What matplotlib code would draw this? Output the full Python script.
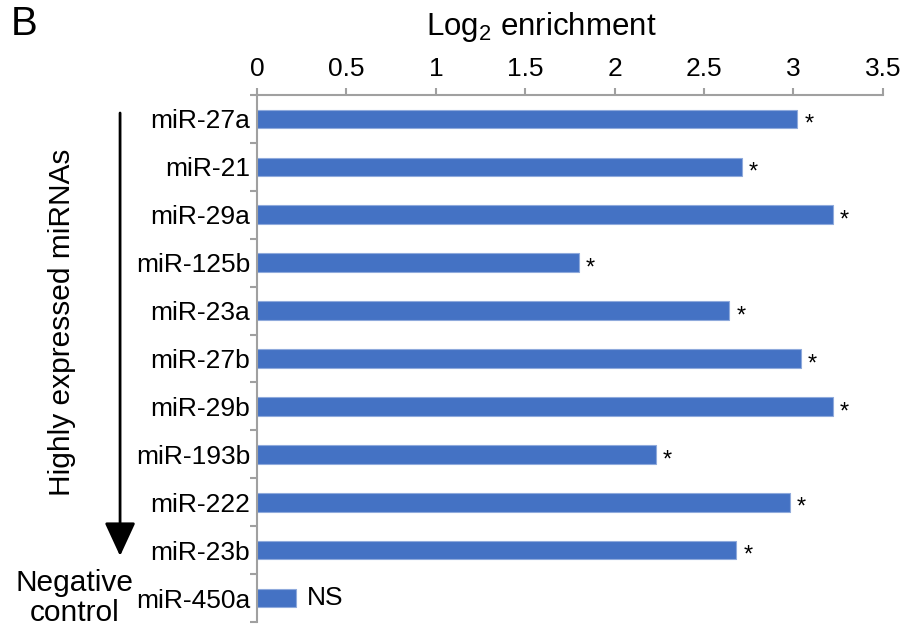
import matplotlib
matplotlib.use("Agg")
import matplotlib.pyplot as plt
import numpy as np

plt.rcParams['font.family'] = ['Liberation Sans', 'DejaVu Sans']
plt.rcParams['mathtext.default'] = 'regular'

mirnas = ["miR-27a", "miR-21", "miR-29a", "miR-125b", "miR-23a", "miR-27b",
          "miR-29b", "miR-193b", "miR-222", "miR-23b", "miR-450a"]
log2_enrichment = [3.02, 2.71, 3.22, 1.80, 2.64, 3.04, 3.22, 2.23, 2.98, 2.68, 0.22]
marks = ["*"] * 10 + ["NS"]
xticks = [0, 0.5, 1, 1.5, 2, 2.5, 3, 3.5]

fig = plt.figure(figsize=(9.13, 6.32), dpi=100)
ax = fig.add_axes([0.2815, 0.0158, 0.967 - 0.2815, 0.8497 - 0.0158])

y = np.arange(len(mirnas))
ax.barh(y, log2_enrichment, height=0.39, color="#4472C4",
        edgecolor="#8faadc", linewidth=0.8)
ax.set_ylim(len(mirnas) - 0.5, -0.5)
ax.set_xlim(0, 3.5)

# significance marks just past each bar
for yi, v, m in zip(y, log2_enrichment, marks):
    if m == "*":
        ax.text(v + 0.04, yi + 0.12, m, fontsize=17, ha="left", va="center")
    else:
        ax.text(v + 0.06, yi, m, fontsize=19, ha="left", va="center")

ax.xaxis.tick_top()
ax.set_xticks(xticks)
ax.set_xticklabels([f"{t:g}" for t in xticks], fontsize=19)
ax.tick_params(axis="x", direction="out", length=5, width=1.5,
               color="#a0a0a0", pad=5)

# category labels in the middle, ticks on the boundaries
ax.set_yticks(y)
ax.set_yticklabels(mirnas, fontsize=19)
ax.set_yticks(np.arange(-0.5, len(mirnas) + 0.5), minor=True)
ax.tick_params(axis="y", which="major", length=0, pad=5)
ax.tick_params(axis="y", which="minor", direction="out", length=5,
               width=1.5, color="#a0a0a0")

for s in ["right", "bottom"]:
    ax.spines[s].set_visible(False)
for s in ["top", "left"]:
    ax.spines[s].set_color("#a0a0a0")
    ax.spines[s].set_linewidth(1.5)

fig.text(0.593, 0.958, "Log$_2$ enrichment", fontsize=22.5, ha="center", va="center")
fig.text(0.012, 0.962, "B", fontsize=29, ha="left", va="center")
fig.text(0.068, 0.49, "Highly expressed miRNAs", fontsize=21.5,
         rotation=90, ha="center", va="center")
fig.text(0.082, 0.054, "Negative\ncontrol", fontsize=21.5, ha="center",
         va="center", linespacing=1.08)

fig.add_artist(matplotlib.patches.FancyArrowPatch(
    (0.1315, 1 - 113 / 632), (0.1315, 1 - 556 / 632),
    transform=fig.transFigure, arrowstyle="-|>,head_length=1.3,head_width=0.6",
    mutation_scale=16, color="black", linewidth=2, shrinkA=0, shrinkB=0))

fig.savefig("out.png", dpi=100)
